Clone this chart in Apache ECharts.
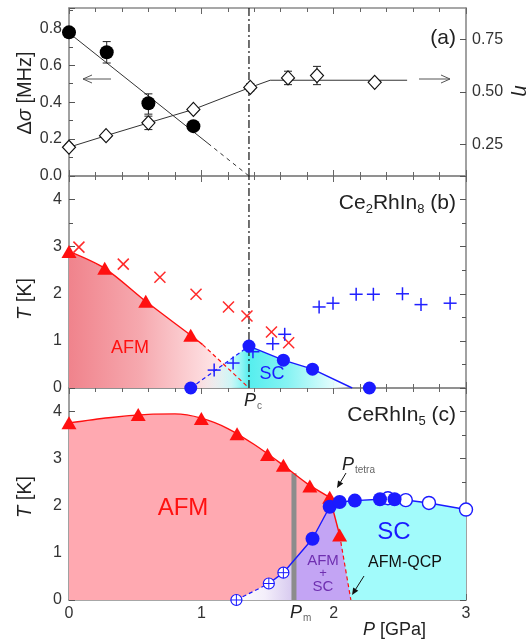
<!DOCTYPE html>
<html>
<head>
<meta charset="utf-8">
<script src="https://cdn.jsdelivr.net/npm/echarts@6/dist/echarts.min.js"></script>
<style>
  html, body { margin: 0; padding: 0; background: #fff; }
  #chart { width: 530px; height: 644px; }
</style>
</head>
<body>
<div id="chart"></div>
<script>
// ---------- panel (a) ----------
var pc = 1.36;
var dsigP = [0, 0.285, 0.6, 0.94];
var dsigV = [0.778, 0.67, 0.394, 0.27];
var dsigErr = [[0.285, 0.612, 0.728], [0.6, 0.335, 0.445]];
var dsigFit = [[0, 0.775], [1.05, 0.177]];
var dsigFitDash = [[1.05, 0.177], [1.36, 0]];
var etaP = [0, 0.28, 0.6, 0.94, 1.37, 1.655, 1.874, 2.31];
var etaV = [0.237, 0.292, 0.353, 0.417, 0.522, 0.567, 0.578, 0.546];
var etaErr = [[0, 0.222, 0.252], [0.6, 0.321, 0.385], [1.37, 0.505, 0.54], [1.655, 0.535, 0.599], [1.874, 0.535, 0.622]];
var etaLine = [[0, 0.237], [0.28, 0.292], [0.6, 0.353], [0.94, 0.417], [1.37, 0.522], [1.52, 0.556], [2.555, 0.556]];
var etaTicks = [0.25, 0.5, 0.75];

// ---------- panel (b) Ce2RhIn8 ----------
var tnBP = [0, 0.27, 0.58, 0.92];
var tnBT = [2.9, 2.54, 1.84, 1.12];
var tnBLine = [[0, 2.9], [0.27, 2.54], [0.58, 1.84], [0.92, 1.12], [1.01, 0.92]];
var tnBDash = [[1.01, 0.92], [1.36, 0]];
var crossBP = [0.075, 0.41, 0.687, 0.96, 1.205, 1.345, 1.53, 1.66];
var crossBT = [2.99, 2.63, 2.35, 1.99, 1.72, 1.53, 1.19, 0.96];
var plusBP = [1.097, 1.24, 1.39, 1.54, 1.63, 1.89, 1.995, 2.17, 2.30, 2.52, 2.66, 2.88];
var plusBT = [0.38, 0.53, 0.77, 0.94, 1.14, 1.72, 1.80, 1.99, 1.99, 2.0, 1.77, 1.80];
var tcBP = [0.92, 1.36, 1.62, 1.84, 2.27];
var tcBT = [0, 0.89, 0.59, 0.40, 0];
var tcBDash = [[0.92, 0], [1.36, 0.89]];
var tcBLine = [[1.36, 0.89], [1.62, 0.59], [1.84, 0.40], [2.14, 0]];
var scBTop = [[0.92, 0], [1.36, 0.89], [1.62, 0.59], [1.84, 0.40], [2.14, 0]];

// ---------- panel (c) CeRhIn5 ----------
var tnCP = [0, 0.523, 1.0, 1.27, 1.5, 1.62, 1.82, 1.97, 2.045];
var tnCT = [3.76, 3.94, 3.85, 3.53, 3.09, 2.86, 2.42, 2.18, 1.38];
var tnCLine = [[0, 3.76], [0.3, 3.87], [0.6, 3.94], [0.8, 3.95], [1.0, 3.86], [1.2, 3.64], [1.4, 3.3], [1.6, 2.9], [1.8, 2.47], [1.97, 2.18]];
var tnCSeg = [[1.97, 2.18], [2.045, 1.38]];
var tnCDash = [[2.045, 1.38], [2.13, 0]];
var tcCFullP = [1.84, 1.97, 2.045, 2.16, 2.35, 2.46];
var tcCFullT = [1.3, 1.98, 2.08, 2.11, 2.14, 2.14];
var tcCOpenP = [2.41, 2.545, 2.72, 3.0];
var tcCOpenT = [2.16, 2.12, 2.06, 1.92];
var tcCCrossP = [1.265, 1.51, 1.62];
var tcCCrossT = [0, 0.35, 0.58];
var tcCDash = [[1.265, 0], [1.51, 0.35]];
var tcCLine = [[1.51, 0.35], [1.62, 0.58], [1.84, 1.3], [1.97, 1.98], [2.045, 2.08], [2.16, 2.11], [2.35, 2.14], [2.5, 2.14], [2.72, 2.06], [3.0, 1.92]];
var fadeCTop = [[1.265, 0], [1.51, 0.35], [1.62, 0.58], [1.70, 0.84]];
var mixCTop = [[1.70, 0.84], [1.84, 1.3], [1.97, 1.98], [1.975, 2.13], [2.045, 1.38], [2.13, 0]];
var scCTop = [[1.97, 1.98], [2.045, 2.08], [2.16, 2.11], [2.35, 2.14], [2.5, 2.14], [2.72, 2.06], [3.0, 1.92]];
var pm = 1.70;
var pmTop = 2.69;

var FONT = 'Liberation Sans, Arial, sans-serif';
var AXC = '#8a8a8a';
var RED = '#ff1010';
var BLUE = '#1a1aff';

function pairs(xs, ys) { return xs.map(function (x, i) { return [x, ys[i]]; }); }

function xAx(grid, pos, labels) {
  return {
    type: 'value', gridIndex: grid, position: pos, min: 0, max: 3, interval: 1,
    axisLine: { show: true, onZero: false, lineStyle: { color: AXC, width: 1.6 } },
    axisTick: { show: true, inside: true, length: 6, lineStyle: { color: '#666', width: 1 } },
    minorTick: { show: true, splitNumber: 5, length: 4, lineStyle: { color: '#666', width: 1 } },
    splitLine: { show: false },
    axisLabel: { show: labels, color: '#333', fontSize: 16, fontFamily: FONT, margin: 6 }
  };
}
function yT(grid, pos, labels) {
  return {
    type: 'value', gridIndex: grid, position: pos, min: 0, max: 4.5, interval: 1,
    axisLine: { show: true, onZero: false, lineStyle: { color: AXC, width: 1.6 } },
    axisTick: { show: true, inside: true, length: 6, lineStyle: { color: '#555', width: 1 } },
    minorTick: { show: true, splitNumber: 2, length: 4, lineStyle: { color: '#555', width: 1 } },
    splitLine: { show: false },
    axisLabel: { show: labels, showMaxLabel: false, color: '#333', fontSize: 16, fontFamily: FONT, margin: 7 }
  };
}

function ln(xi, yi, data, color, width, type, smooth, z) {
  return {
    type: 'line', xAxisIndex: xi, yAxisIndex: yi, data: data, symbol: 'none',
    smooth: smooth || false, silent: true, z: z || 3,
    lineStyle: { color: color, width: width, type: type || 'solid' }
  };
}
function area(xi, yi, data, fill, smooth, z) {
  return {
    type: 'line', xAxisIndex: xi, yAxisIndex: yi, data: data, symbol: 'none',
    smooth: smooth || false, silent: true, z: z || 1,
    lineStyle: { width: 0, opacity: 0 }, areaStyle: { color: fill, opacity: 1 }
  };
}
function sc(xi, yi, data, symbol, size, style, z) {
  style.opacity = 1;
  return {
    type: 'scatter', xAxisIndex: xi, yAxisIndex: yi, data: data, symbol: symbol,
    symbolSize: size, itemStyle: style, z: z || 5, silent: true
  };
}
function grad(stops) {
  return new echarts.graphic.LinearGradient(0, 0, 1, 0, stops.map(function (s) { return { offset: s[0], color: s[1] }; }));
}

function errBars(xi, yi, data) {
  return {
    type: 'custom', xAxisIndex: xi, yAxisIndex: yi, data: data, z: 4, silent: true,
    renderItem: function (params, api) {
      var x = api.value(0);
      var lo = api.coord([x, api.value(1)]);
      var hi = api.coord([x, api.value(2)]);
      var st = { stroke: '#222', lineWidth: 1 };
      return { type: 'group', children: [
        { type: 'line', shape: { x1: lo[0], y1: lo[1], x2: hi[0], y2: hi[1] }, style: st },
        { type: 'line', shape: { x1: lo[0] - 4, y1: lo[1], x2: lo[0] + 4, y2: lo[1] }, style: st },
        { type: 'line', shape: { x1: hi[0] - 4, y1: hi[1], x2: hi[0] + 4, y2: hi[1] }, style: st }
      ] };
    }
  };
}
function marks(xi, yi, data, kind, color, h) {
  return {
    type: 'custom', xAxisIndex: xi, yAxisIndex: yi, data: data, z: 6, silent: true,
    renderItem: function (params, api) {
      var p = api.coord([api.value(0), api.value(1)]);
      var st = { stroke: color, lineWidth: 1.5 };
      if (kind === 'x') {
        return { type: 'group', children: [
          { type: 'line', shape: { x1: p[0] - h, y1: p[1] - h, x2: p[0] + h, y2: p[1] + h }, style: st },
          { type: 'line', shape: { x1: p[0] - h, y1: p[1] + h, x2: p[0] + h, y2: p[1] - h }, style: st }
        ] };
      }
      var kids = [];
      if (kind === 'o+') {
        kids.push({ type: 'circle', shape: { cx: p[0], cy: p[1], r: h }, style: { fill: '#fff', stroke: color, lineWidth: 1.2 } });
        st = { stroke: color, lineWidth: 1 };
      }
      kids.push({ type: 'line', shape: { x1: p[0] - h, y1: p[1], x2: p[0] + h, y2: p[1] }, style: st });
      kids.push({ type: 'line', shape: { x1: p[0], y1: p[1] - h, x2: p[0], y2: p[1] + h }, style: st });
      return { type: 'group', children: kids };
    }
  };
}

var chart = echarts.init(document.getElementById('chart'));

var option = {
  animation: false,
  backgroundColor: '#fff',
  grid: [
    { left: 69, top: 8, width: 397, height: 168 },
    { left: 69, top: 176, width: 397, height: 212 },
    { left: 69, top: 388, width: 397, height: 212 }
  ],
  xAxis: [xAx(0, 'bottom', false), xAx(0, 'top', false), xAx(1, 'bottom', false), xAx(1, 'top', false), xAx(2, 'bottom', true), xAx(2, 'top', false)],
  yAxis: [
    {
      type: 'value', gridIndex: 0, position: 'left', min: 0, max: 0.91, interval: 0.2,
      axisLine: { show: true, onZero: false, lineStyle: { color: AXC, width: 1.6 } },
      axisTick: { show: true, inside: true, length: 6, lineStyle: { color: '#555' } },
      minorTick: { show: true, splitNumber: 2, length: 4, lineStyle: { color: '#555' } },
      splitLine: { show: false },
      axisLabel: { showMaxLabel: false, color: '#333', fontSize: 16, fontFamily: FONT, margin: 7, formatter: function (v) { return v.toFixed(1); } }
    },
    {
      type: 'value', gridIndex: 0, position: 'right', min: 0.1, max: 0.9,
      axisLine: { show: true, onZero: false, lineStyle: { color: AXC, width: 1.6 } },
      axisTick: { show: true, inside: true, length: 6, customValues: etaTicks, lineStyle: { color: '#555' } },
      splitLine: { show: false },
      axisLabel: { color: '#333', fontSize: 16, fontFamily: FONT, margin: 6, customValues: etaTicks, formatter: function (v) { return v.toFixed(2); } }
    },
    yT(1, 'left', true), yT(1, 'right', false), yT(2, 'left', true), yT(2, 'right', false)
  ],
  series: [
    // ----- (a)
    ln(0, 0, [[pc, 0], [pc, 0.91]], '#111', 1.2, [8, 3, 2, 3], false, 2),
    ln(0, 0, dsigFit, '#333', 1, 'solid'),
    ln(0, 0, dsigFitDash, '#333', 1, [4, 4]),
    ln(0, 1, etaLine, '#333', 1, 'solid'),
    errBars(0, 0, dsigErr),
    errBars(0, 1, etaErr),
    sc(0, 0, pairs(dsigP, dsigV), 'circle', 14, { color: '#000' }),
    sc(0, 1, pairs(etaP, etaV), 'diamond', [13, 14], { color: '#fff', borderColor: '#111', borderWidth: 1.2 }),
    // ----- (b)
    area(2, 2, tnBLine.concat([[1.36, 0]]), grad([[0, '#f0838c'], [0.4, '#f6a9af'], [0.7, '#fcd4d7'], [0.9, '#fff0f1'], [1, 'rgba(255,255,255,0)']]), 0.3, 1),
    area(2, 2, scBTop, grad([[0, 'rgba(255,255,255,0)'], [0.25, 'rgba(170,248,248,0.6)'], [0.36, '#55eeee'], [0.6, '#86f3f3'], [0.88, '#e2fdfd'], [1, 'rgba(255,255,255,0)']]), false, 1),
    ln(2, 2, [[pc, 0], [pc, 4.5]], '#111', 1.2, [8, 3, 2, 3], false, 2),
    ln(2, 2, tnBLine, RED, 1.4, 'solid', 0.3),
    ln(2, 2, tnBDash, RED, 1.2, [4, 3]),
    ln(2, 2, tcBDash, BLUE, 1.2, [4, 3]),
    ln(2, 2, tcBLine, BLUE, 1.4, 'solid'),
    marks(2, 2, pairs(crossBP, crossBT), 'x', '#ff2a2a', 5.5),
    marks(2, 2, pairs(plusBP, plusBT), '+', '#2020ff', 6.5),
    sc(2, 2, pairs(tnBP, tnBT), 'triangle', [15, 13], { color: RED }),
    sc(2, 2, pairs(tcBP, tcBT), 'circle', 13, { color: BLUE }, 7),
    // ----- (c)
    area(4, 4, tnCLine, '#ffa9b1', 0.3, 1),
    area(4, 4, scCTop, '#a2fbfb', false, 1),
    area(4, 4, fadeCTop, grad([[0, '#ffffff'], [0.5, '#f3eefa'], [1, '#d6c8ef']]), false, 1),
    area(4, 4, mixCTop, '#c3a4f4', false, 1),
    ln(4, 4, [[pm, 0], [pm, pmTop]], '#8c8c8c', 5, 'solid', false, 2),
    ln(4, 4, tnCLine, RED, 1.4, 'solid', 0.3),
    ln(4, 4, tnCSeg, RED, 1.4, 'solid'),
    ln(4, 4, tnCDash, RED, 1.2, [4, 3]),
    ln(4, 4, tcCDash, BLUE, 1.2, [4, 3]),
    ln(4, 4, tcCLine, BLUE, 1.4, 'solid'),
    marks(4, 4, pairs(tcCCrossP, tcCCrossT), 'o+', BLUE, 5.5),
    sc(4, 4, pairs(tnCP, tnCT), 'triangle', [15, 13], { color: RED }),
    sc(4, 4, pairs(tcCOpenP, tcCOpenT), 'circle', 13, { color: '#fff', borderColor: BLUE, borderWidth: 1.4 }, 7),
    sc(4, 4, pairs(tcCFullP, tcCFullT), 'circle', 14, { color: BLUE }, 8)
  ]
};
chart.setOption(option);

// ---------- annotations ----------
function txt(x, y, text, size, color, opts) {
  var o = opts || {};
  return {
    type: 'text', x: x, y: y, rotation: o.rot || 0, z: 100, silent: true,
    style: {
      text: text, fontSize: size, fontFamily: FONT, fill: color,
      fontStyle: o.italic ? 'italic' : 'normal',
      align: o.align || 'center', verticalAlign: 'middle', rich: o.rich
    }
  };
}
function arrow(x1, y1, x2, y2, color, filled) {
  var a = Math.atan2(y2 - y1, x2 - x1), L = filled ? 7 : 9, W = filled ? 3 : 4;
  var bx = x2 - L * Math.cos(a), by = y2 - L * Math.sin(a);
  var px = -Math.sin(a) * W, py = Math.cos(a) * W;
  var els = [{ type: 'line', z: 100, silent: true, shape: { x1: x1, y1: y1, x2: filled ? bx : x2, y2: filled ? by : y2 }, style: { stroke: color, lineWidth: 1 } }];
  if (filled) {
    els.push({ type: 'polygon', z: 100, silent: true, shape: { points: [[x2, y2], [bx + px, by + py], [bx - px, by - py]] }, style: { fill: color } });
  } else {
    els.push({ type: 'polyline', z: 100, silent: true, shape: { points: [[bx + px, by + py], [x2, y2], [bx - px, by - py]] }, style: { stroke: color, lineWidth: 1, fill: null } });
  }
  return els;
}

var richSub = {
  n: { fontSize: 21, fontFamily: FONT, fill: '#222' },
  s: { fontSize: 13, fontFamily: FONT, fill: '#222', padding: [12, 0, 0, 0] }
};
var richP = {
  p: { fontSize: 18, fontFamily: FONT, fontStyle: 'italic', fill: '#222' },
  s: { fontSize: 10, fontFamily: FONT, fill: '#666', padding: [10, 0, 0, 1] }
};
var richAx = {
  i: { fontSize: 20, fontFamily: FONT, fontStyle: 'italic', fill: '#222' },
  n: { fontSize: 20, fontFamily: FONT, fill: '#222' }
};

var g = [
  txt(456, 38, '(a)', 21, '#222', { align: 'right' }),
  txt(456, 203, '{n|Ce}{s|2}{n|RhIn}{s|8}{n| (b)}', 21, '#222', { align: 'right', rich: richSub }),
  txt(456, 415, '{n|CeRhIn}{s|5}{n| (c)}', 21, '#222', { align: 'right', rich: richSub }),
  txt(130, 348, 'AFM', 18, RED),
  txt(272, 374, 'SC', 18, BLUE),
  txt(183, 508, 'AFM', 24, RED),
  txt(394, 532, 'SC', 24, BLUE),
  txt(323, 561, 'AFM', 15, '#6f2fb0'),
  txt(323, 573, '+', 13, '#6f2fb0'),
  txt(323, 587, 'SC', 15, '#6f2fb0'),
  txt(405, 563, 'AFM-QCP', 16, '#111'),
  txt(244, 401, '{p|P}{s|c}', 18, '#222', { align: 'left', rich: richP }),
  txt(342, 465, '{p|P}{s|tetra}', 18, '#222', { align: 'left', rich: richP }),
  txt(290, 613, '{p|P}{s|m}', 18, '#222', { align: 'left', rich: richP }),
  txt(363, 630, '{p|P}{n| [GPa]}', 18, '#222', { align: 'left', rich: { p: richP.p, n: { fontSize: 18, fontFamily: FONT, fill: '#222' } } }),
  txt(25, 93, '{n|Δ}{i|σ}{n| [MHz]}', 20, '#222', { rot: Math.PI / 2, rich: richAx }),
  txt(25, 299, '{i|T}{n| [K]}', 20, '#222', { rot: Math.PI / 2, rich: richAx }),
  txt(25, 497, '{i|T}{n| [K]}', 20, '#222', { rot: Math.PI / 2, rich: richAx }),
  txt(521, 91, 'η', 20, '#222', { rot: -Math.PI / 2, italic: true })
];
g = g.concat(arrow(111, 79, 83, 79, '#555', false));
g = g.concat(arrow(419, 79, 450, 79, '#555', false));
g = g.concat(arrow(346, 473, 337, 488, '#111', true));
g = g.concat(arrow(364, 576, 352, 595, '#111', true));

chart.setOption({ graphic: { elements: g } });
</script>
</body>
</html>
